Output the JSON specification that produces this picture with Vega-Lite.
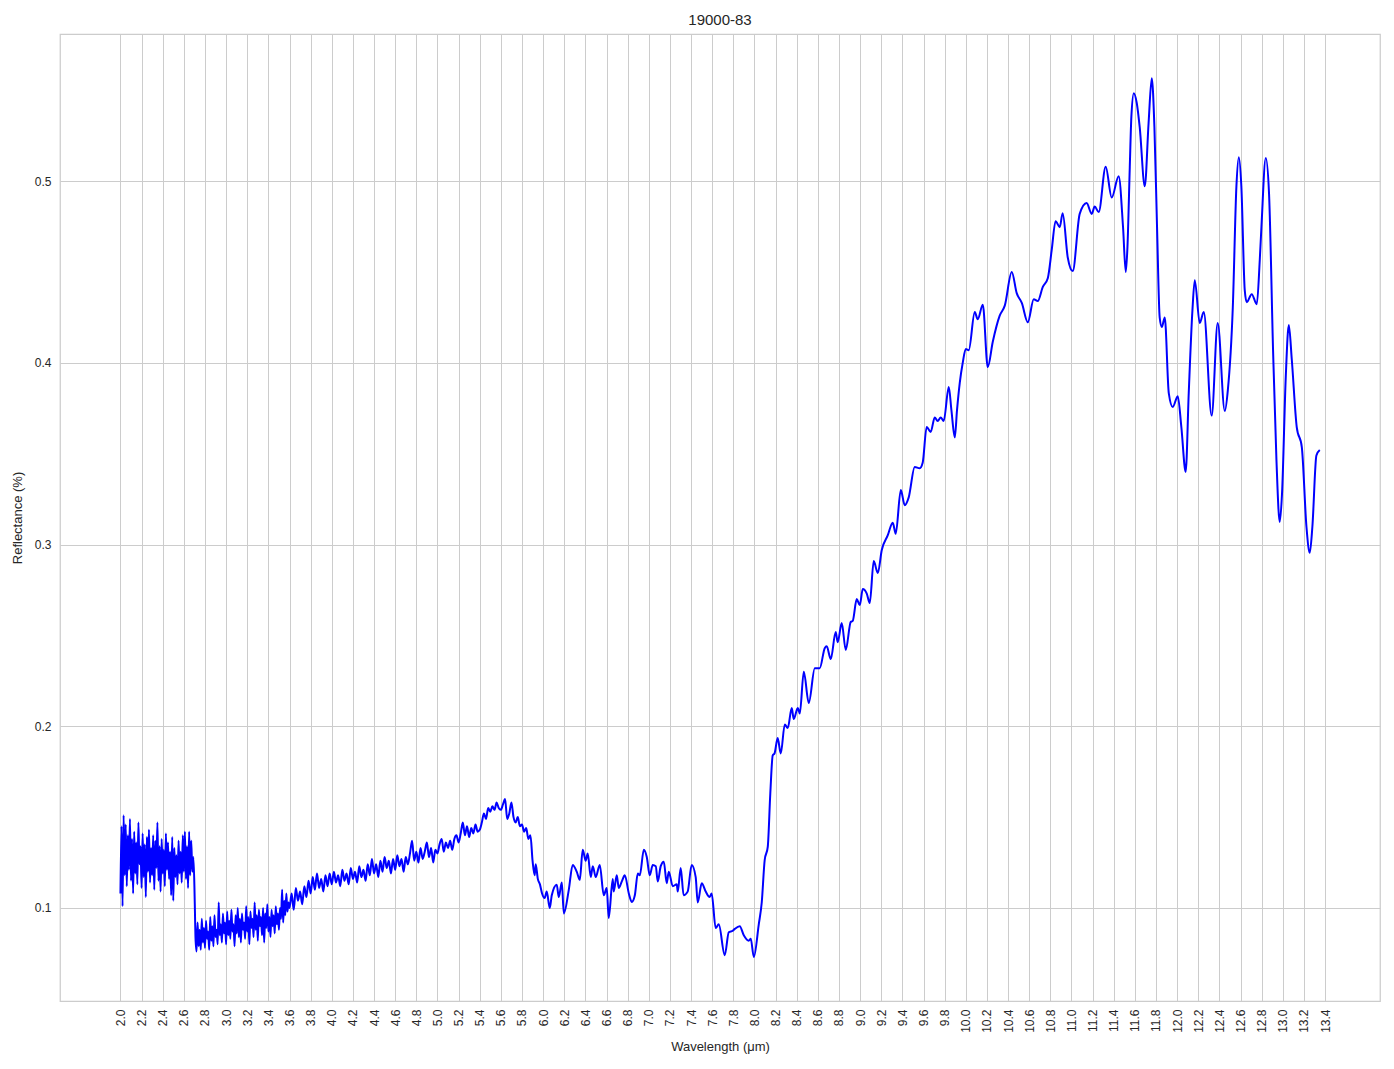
{
  "$schema": "https://vega.github.io/schema/vega-lite/v6.json",
  "width": 1320,
  "height": 967,
  "autosize": {"type": "none"},
  "padding": {"left": 60, "top": 34, "right": 14, "bottom": 68},
  "background": "white",
  "title": {"text": "19000-83", "fontSize": 15, "font": "Liberation Sans", "fontWeight": "normal", "color": "#262626", "anchor": "middle", "offset": 6},
  "config": {
    "view": {"stroke": "#cccccc", "strokeWidth": 1.25},
    "axis": {"labelFont": "Liberation Sans", "titleFont": "Liberation Sans", "labelColor": "#262626", "titleColor": "#262626", "labelFontSize": 12, "titleFontSize": 13, "titleFontWeight": "normal", "gridColor": "#cccccc", "gridWidth": 1, "domain": false, "ticks": false}
  },
  "data": {"values": [
    {"wl":2.00,"refl":0.108},{"wl":2.01,"refl":0.145},{"wl":2.02,"refl":0.101},{"wl":2.03,"refl":0.151},{"wl":2.04,"refl":0.118},{"wl":2.05,"refl":0.146},{"wl":2.06,"refl":0.112},{"wl":2.07,"refl":0.140},{"wl":2.08,"refl":0.121},{"wl":2.09,"refl":0.149},
    {"wl":2.10,"refl":0.115},{"wl":2.11,"refl":0.138},{"wl":2.12,"refl":0.108},{"wl":2.13,"refl":0.142},{"wl":2.14,"refl":0.119},{"wl":2.15,"refl":0.136},{"wl":2.16,"refl":0.113},{"wl":2.17,"refl":0.147},{"wl":2.18,"refl":0.124},{"wl":2.19,"refl":0.134},
    {"wl":2.20,"refl":0.111},{"wl":2.21,"refl":0.141},{"wl":2.22,"refl":0.117},{"wl":2.23,"refl":0.135},{"wl":2.24,"refl":0.106},{"wl":2.25,"refl":0.139},{"wl":2.26,"refl":0.120},{"wl":2.27,"refl":0.143},{"wl":2.28,"refl":0.114},{"wl":2.29,"refl":0.133},
    {"wl":2.30,"refl":0.118},{"wl":2.31,"refl":0.140},{"wl":2.32,"refl":0.110},{"wl":2.33,"refl":0.137},{"wl":2.34,"refl":0.122},{"wl":2.35,"refl":0.147},{"wl":2.36,"refl":0.115},{"wl":2.37,"refl":0.134},{"wl":2.38,"refl":0.109},{"wl":2.39,"refl":0.138},
    {"wl":2.40,"refl":0.119},{"wl":2.41,"refl":0.132},{"wl":2.42,"refl":0.112},{"wl":2.43,"refl":0.141},{"wl":2.44,"refl":0.121},{"wl":2.45,"refl":0.136},{"wl":2.46,"refl":0.116},{"wl":2.47,"refl":0.131},{"wl":2.48,"refl":0.107},{"wl":2.49,"refl":0.139},
    {"wl":2.50,"refl":0.104},{"wl":2.51,"refl":0.133},{"wl":2.52,"refl":0.117},{"wl":2.53,"refl":0.129},{"wl":2.54,"refl":0.113},{"wl":2.55,"refl":0.137},{"wl":2.56,"refl":0.119},{"wl":2.57,"refl":0.131},{"wl":2.58,"refl":0.114},{"wl":2.59,"refl":0.140},
    {"wl":2.60,"refl":0.120},{"wl":2.61,"refl":0.142},{"wl":2.62,"refl":0.116},{"wl":2.63,"refl":0.134},{"wl":2.64,"refl":0.111},{"wl":2.65,"refl":0.142},{"wl":2.66,"refl":0.118},{"wl":2.67,"refl":0.137},{"wl":2.68,"refl":0.120},{"wl":2.69,"refl":0.128},
    {"wl":2.70,"refl":0.112},{"wl":2.705,"refl":0.098},
    {"wl":2.71,"refl":0.084},{"wl":2.72,"refl":0.076},{"wl":2.73,"refl":0.092},{"wl":2.74,"refl":0.079},{"wl":2.75,"refl":0.088},{"wl":2.76,"refl":0.077},{"wl":2.77,"refl":0.094},{"wl":2.78,"refl":0.081},{"wl":2.79,"refl":0.089},
    {"wl":2.80,"refl":0.078},{"wl":2.81,"refl":0.093},{"wl":2.82,"refl":0.083},{"wl":2.83,"refl":0.087},{"wl":2.84,"refl":0.077},{"wl":2.85,"refl":0.095},{"wl":2.86,"refl":0.082},{"wl":2.87,"refl":0.090},{"wl":2.88,"refl":0.079},{"wl":2.89,"refl":0.096},
    {"wl":2.90,"refl":0.084},{"wl":2.91,"refl":0.088},{"wl":2.92,"refl":0.080},{"wl":2.93,"refl":0.103},{"wl":2.94,"refl":0.085},{"wl":2.95,"refl":0.091},{"wl":2.96,"refl":0.081},{"wl":2.97,"refl":0.097},{"wl":2.98,"refl":0.086},{"wl":2.99,"refl":0.092},
    {"wl":3.00,"refl":0.080},{"wl":3.01,"refl":0.098},{"wl":3.02,"refl":0.085},{"wl":3.03,"refl":0.093},{"wl":3.04,"refl":0.083},{"wl":3.05,"refl":0.099},{"wl":3.06,"refl":0.087},{"wl":3.07,"refl":0.091},{"wl":3.08,"refl":0.079},{"wl":3.09,"refl":0.096},
    {"wl":3.10,"refl":0.086},{"wl":3.11,"refl":0.100},{"wl":3.12,"refl":0.084},{"wl":3.13,"refl":0.094},{"wl":3.14,"refl":0.081},{"wl":3.15,"refl":0.097},{"wl":3.16,"refl":0.088},{"wl":3.17,"refl":0.092},{"wl":3.18,"refl":0.083},{"wl":3.19,"refl":0.101},
    {"wl":3.20,"refl":0.087},{"wl":3.21,"refl":0.095},{"wl":3.22,"refl":0.080},{"wl":3.23,"refl":0.098},{"wl":3.24,"refl":0.089},{"wl":3.25,"refl":0.094},{"wl":3.26,"refl":0.084},{"wl":3.27,"refl":0.103},{"wl":3.28,"refl":0.088},{"wl":3.29,"refl":0.096},
    {"wl":3.30,"refl":0.082},{"wl":3.31,"refl":0.099},{"wl":3.32,"refl":0.090},{"wl":3.33,"refl":0.095},{"wl":3.34,"refl":0.085},{"wl":3.35,"refl":0.100},{"wl":3.36,"refl":0.081},{"wl":3.37,"refl":0.097},{"wl":3.38,"refl":0.089},{"wl":3.39,"refl":0.102},
    {"wl":3.40,"refl":0.087},{"wl":3.41,"refl":0.095},{"wl":3.42,"refl":0.084},{"wl":3.43,"refl":0.099},{"wl":3.44,"refl":0.090},{"wl":3.45,"refl":0.096},{"wl":3.46,"refl":0.086},{"wl":3.47,"refl":0.101},{"wl":3.48,"refl":0.091},{"wl":3.49,"refl":0.097},
    {"wl":3.50,"refl":0.088},{"wl":3.51,"refl":0.100},{"wl":3.52,"refl":0.094},{"wl":3.53,"refl":0.110},{"wl":3.54,"refl":0.092},{"wl":3.55,"refl":0.104},{"wl":3.56,"refl":0.096},{"wl":3.57,"refl":0.108},{"wl":3.58,"refl":0.098},{"wl":3.59,"refl":0.103},
    {"wl":3.60,"refl":0.100},{"wl":3.62,"refl":0.108},{"wl":3.64,"refl":0.099},{"wl":3.66,"refl":0.111},{"wl":3.68,"refl":0.104},{"wl":3.70,"refl":0.109},{"wl":3.72,"refl":0.102},{"wl":3.74,"refl":0.112},{"wl":3.76,"refl":0.106},{"wl":3.78,"refl":0.115},
    {"wl":3.80,"refl":0.108},{"wl":3.82,"refl":0.117},{"wl":3.84,"refl":0.110},{"wl":3.86,"refl":0.119},{"wl":3.88,"refl":0.111},{"wl":3.90,"refl":0.116},{"wl":3.92,"refl":0.109},{"wl":3.94,"refl":0.118},{"wl":3.96,"refl":0.112},{"wl":3.98,"refl":0.119},
    {"wl":4.00,"refl":0.113},{"wl":4.02,"refl":0.120},{"wl":4.04,"refl":0.114},{"wl":4.06,"refl":0.118},{"wl":4.08,"refl":0.112},{"wl":4.10,"refl":0.121},{"wl":4.12,"refl":0.115},{"wl":4.14,"refl":0.119},{"wl":4.16,"refl":0.113},{"wl":4.18,"refl":0.122},
    {"wl":4.20,"refl":0.116},{"wl":4.22,"refl":0.120},{"wl":4.24,"refl":0.114},{"wl":4.26,"refl":0.123},{"wl":4.28,"refl":0.117},{"wl":4.30,"refl":0.121},{"wl":4.32,"refl":0.115},{"wl":4.34,"refl":0.124},{"wl":4.36,"refl":0.118},{"wl":4.38,"refl":0.127},
    {"wl":4.40,"refl":0.119},{"wl":4.42,"refl":0.124},{"wl":4.44,"refl":0.117},{"wl":4.46,"refl":0.126},{"wl":4.48,"refl":0.120},{"wl":4.50,"refl":0.128},{"wl":4.52,"refl":0.122},{"wl":4.54,"refl":0.126},{"wl":4.56,"refl":0.119},{"wl":4.58,"refl":0.127},
    {"wl":4.60,"refl":0.121},{"wl":4.62,"refl":0.129},{"wl":4.64,"refl":0.123},{"wl":4.66,"refl":0.127},{"wl":4.68,"refl":0.120},{"wl":4.70,"refl":0.128},{"wl":4.72,"refl":0.124},{"wl":4.74,"refl":0.130},{"wl":4.76,"refl":0.137},{"wl":4.78,"refl":0.126},
    {"wl":4.80,"refl":0.131},{"wl":4.82,"refl":0.125},{"wl":4.84,"refl":0.133},{"wl":4.86,"refl":0.127},{"wl":4.88,"refl":0.131},{"wl":4.90,"refl":0.136},{"wl":4.92,"refl":0.128},{"wl":4.94,"refl":0.133},{"wl":4.96,"refl":0.125},{"wl":4.98,"refl":0.132},
    {"wl":5.00,"refl":0.130},{"wl":5.02,"refl":0.135},{"wl":5.04,"refl":0.138},{"wl":5.06,"refl":0.131},{"wl":5.08,"refl":0.136},{"wl":5.10,"refl":0.133},{"wl":5.12,"refl":0.137},{"wl":5.14,"refl":0.132},{"wl":5.16,"refl":0.138},{"wl":5.18,"refl":0.140},
    {"wl":5.20,"refl":0.136},{"wl":5.22,"refl":0.141},{"wl":5.24,"refl":0.147},{"wl":5.26,"refl":0.140},{"wl":5.28,"refl":0.145},{"wl":5.30,"refl":0.139},{"wl":5.32,"refl":0.144},{"wl":5.34,"refl":0.141},{"wl":5.36,"refl":0.146},{"wl":5.38,"refl":0.142},
    {"wl":5.40,"refl":0.143},{"wl":5.42,"refl":0.147},{"wl":5.44,"refl":0.152},{"wl":5.46,"refl":0.149},{"wl":5.48,"refl":0.155},{"wl":5.50,"refl":0.153},{"wl":5.52,"refl":0.156},{"wl":5.54,"refl":0.154},{"wl":5.56,"refl":0.158},{"wl":5.58,"refl":0.155},
    {"wl":5.60,"refl":0.154},{"wl":5.62,"refl":0.157},{"wl":5.64,"refl":0.160},{"wl":5.66,"refl":0.149},{"wl":5.68,"refl":0.152},{"wl":5.70,"refl":0.158},{"wl":5.72,"refl":0.150},{"wl":5.74,"refl":0.147},{"wl":5.76,"refl":0.150},{"wl":5.78,"refl":0.145},
    {"wl":5.80,"refl":0.146},{"wl":5.82,"refl":0.142},{"wl":5.84,"refl":0.144},{"wl":5.86,"refl":0.138},{"wl":5.88,"refl":0.140},{"wl":5.90,"refl":0.126},{"wl":5.92,"refl":0.118},{"wl":5.93,"refl":0.124},{"wl":5.95,"refl":0.116},{"wl":5.97,"refl":0.113},
    {"wl":5.99,"refl":0.108},{"wl":6.015,"refl":0.1055},{"wl":6.034,"refl":0.109},{"wl":6.063,"refl":0.100},{"wl":6.082,"refl":0.107},{"wl":6.129,"refl":0.1128},{"wl":6.148,"refl":0.106},{"wl":6.177,"refl":0.114},{"wl":6.196,"refl":0.097},{"wl":6.243,"refl":0.110},
    {"wl":6.280,"refl":0.1237},{"wl":6.318,"refl":0.120},{"wl":6.347,"refl":0.1155},{"wl":6.375,"refl":0.132},{"wl":6.403,"refl":0.126},{"wl":6.422,"refl":0.130},{"wl":6.451,"refl":0.117},{"wl":6.470,"refl":0.123},{"wl":6.498,"refl":0.117},{"wl":6.536,"refl":0.1237},
    {"wl":6.574,"refl":0.107},{"wl":6.602,"refl":0.111},{"wl":6.621,"refl":0.0945},{"wl":6.659,"refl":0.116},{"wl":6.668,"refl":0.109},{"wl":6.697,"refl":0.118},{"wl":6.716,"refl":0.111},{"wl":6.744,"refl":0.1145},{"wl":6.773,"refl":0.118},{"wl":6.811,"refl":0.108},
    {"wl":6.839,"refl":0.1033},{"wl":6.868,"refl":0.107},{"wl":6.896,"refl":0.119},{"wl":6.915,"refl":0.118},{"wl":6.953,"refl":0.132},{"wl":6.981,"refl":0.128},{"wl":7.009,"refl":0.118},{"wl":7.038,"refl":0.1237},{"wl":7.066,"refl":0.123},{"wl":7.085,"refl":0.1145},
    {"wl":7.113,"refl":0.123},{"wl":7.142,"refl":0.1255},{"wl":7.170,"refl":0.1136},{"wl":7.189,"refl":0.120},{"wl":7.227,"refl":0.112},{"wl":7.265,"refl":0.113},{"wl":7.274,"refl":0.109},{"wl":7.302,"refl":0.122},{"wl":7.330,"refl":0.107},{"wl":7.368,"refl":0.109},
    {"wl":7.406,"refl":0.1237},{"wl":7.444,"refl":0.117},{"wl":7.463,"refl":0.103},{"wl":7.501,"refl":0.1136},{"wl":7.539,"refl":0.109},{"wl":7.576,"refl":0.106},{"wl":7.595,"refl":0.108},{"wl":7.633,"refl":0.089},{"wl":7.662,"refl":0.091},{"wl":7.719,"refl":0.074},
    {"wl":7.757,"refl":0.0866},{"wl":7.795,"refl":0.0875},{"wl":7.814,"refl":0.0885},{"wl":7.861,"refl":0.090},{"wl":7.899,"refl":0.085},{"wl":7.946,"refl":0.082},{"wl":7.965,"refl":0.083},{"wl":7.994,"refl":0.073},{"wl":8.041,"refl":0.091},{"wl":8.069,"refl":0.103},
    {"wl":8.097,"refl":0.1264},{"wl":8.126,"refl":0.1336},{"wl":8.150,"refl":0.163},{"wl":8.173,"refl":0.184},{"wl":8.190,"refl":0.185},{"wl":8.220,"refl":0.1935},{"wl":8.249,"refl":0.185},{"wl":8.287,"refl":0.201},{"wl":8.315,"refl":0.199},{"wl":8.353,"refl":0.210},
    {"wl":8.372,"refl":0.204},{"wl":8.410,"refl":0.210},{"wl":8.429,"refl":0.207},{"wl":8.467,"refl":0.230},{"wl":8.514,"refl":0.2128},{"wl":8.571,"refl":0.232},{"wl":8.618,"refl":0.232},{"wl":8.665,"refl":0.243},{"wl":8.684,"refl":0.244},{"wl":8.722,"refl":0.237},
    {"wl":8.769,"refl":0.2519},{"wl":8.788,"refl":0.2463},{"wl":8.826,"refl":0.2568},{"wl":8.864,"refl":0.242},{"wl":8.911,"refl":0.2574},{"wl":8.930,"refl":0.258},{"wl":8.968,"refl":0.270},{"wl":8.997,"refl":0.2667},{"wl":9.025,"refl":0.2755},{"wl":9.063,"refl":0.273},
    {"wl":9.091,"refl":0.2678},{"wl":9.129,"refl":0.2909},{"wl":9.167,"refl":0.2843},{"wl":9.205,"refl":0.297},{"wl":9.261,"refl":0.305},{"wl":9.309,"refl":0.312},{"wl":9.337,"refl":0.306},{"wl":9.385,"refl":0.330},{"wl":9.422,"refl":0.3217},{"wl":9.460,"refl":0.326},
    {"wl":9.517,"refl":0.3427},{"wl":9.564,"refl":0.342},{"wl":9.592,"refl":0.345},{"wl":9.630,"refl":0.3647},{"wl":9.668,"refl":0.362},{"wl":9.706,"refl":0.370},{"wl":9.734,"refl":0.368},{"wl":9.763,"refl":0.370},{"wl":9.791,"refl":0.368},{"wl":9.839,"refl":0.3867},
    {"wl":9.864,"refl":0.374},{"wl":9.896,"refl":0.359},{"wl":9.917,"refl":0.374},{"wl":9.943,"refl":0.389},{"wl":9.971,"refl":0.400},{"wl":10.000,"refl":0.4076},{"wl":10.028,"refl":0.407},{"wl":10.085,"refl":0.428},{"wl":10.113,"refl":0.424},{"wl":10.161,"refl":0.432},
    {"wl":10.208,"refl":0.3977},{"wl":10.255,"refl":0.4115},{"wl":10.321,"refl":0.426},{"wl":10.369,"refl":0.4315},{"wl":10.435,"refl":0.450},{"wl":10.482,"refl":0.4384},{"wl":10.530,"refl":0.433},{"wl":10.587,"refl":0.4224},{"wl":10.643,"refl":0.435},{"wl":10.681,"refl":0.434},
    {"wl":10.728,"refl":0.4417},{"wl":10.776,"refl":0.4466},{"wl":10.813,"refl":0.462},{"wl":10.850,"refl":0.478},{"wl":10.889,"refl":0.4747},{"wl":10.917,"refl":0.4824},{"wl":10.965,"refl":0.458},{"wl":11.012,"refl":0.4505},{"wl":11.078,"refl":0.482},{"wl":11.144,"refl":0.488},
    {"wl":11.192,"refl":0.482},{"wl":11.220,"refl":0.486},{"wl":11.258,"refl":0.483},{"wl":11.324,"refl":0.508},{"wl":11.381,"refl":0.491},{"wl":11.447,"refl":0.5027},{"wl":11.488,"refl":0.4749},{"wl":11.514,"refl":0.450},{"wl":11.530,"refl":0.4638},{"wl":11.552,"refl":0.5077},
    {"wl":11.567,"refl":0.5354},{"wl":11.590,"refl":0.5484},{"wl":11.618,"refl":0.543},{"wl":11.646,"refl":0.5297},{"wl":11.694,"refl":0.4972},{"wl":11.730,"refl":0.532},{"wl":11.760,"refl":0.5567},{"wl":11.785,"refl":0.530},{"wl":11.810,"refl":0.4747},{"wl":11.835,"refl":0.425},
    {"wl":11.855,"refl":0.4197},{"wl":11.883,"refl":0.425},{"wl":11.921,"refl":0.3834},{"wl":11.959,"refl":0.3757},{"wl":12.006,"refl":0.3817},{"wl":12.040,"refl":0.3647},{"wl":12.081,"refl":0.340},{"wl":12.110,"refl":0.3834},{"wl":12.145,"refl":0.429},{"wl":12.167,"refl":0.4455},
    {"wl":12.214,"refl":0.422},{"wl":12.252,"refl":0.428},{"wl":12.327,"refl":0.371},{"wl":12.384,"refl":0.422},{"wl":12.451,"refl":0.3735},{"wl":12.480,"refl":0.385},{"wl":12.527,"refl":0.4306},{"wl":12.561,"refl":0.497},{"wl":12.584,"refl":0.5132},{"wl":12.608,"refl":0.497},
    {"wl":12.640,"refl":0.440},{"wl":12.659,"refl":0.4334},{"wl":12.706,"refl":0.4378},{"wl":12.754,"refl":0.4323},{"wl":12.782,"refl":0.4565},{"wl":12.798,"refl":0.4749},{"wl":12.839,"refl":0.5127},{"wl":12.870,"refl":0.493},{"wl":12.908,"refl":0.407},{"wl":12.940,"refl":0.3465},
    {"wl":12.971,"refl":0.3124},{"wl":12.993,"refl":0.3283},{"wl":13.028,"refl":0.392},{"wl":13.057,"refl":0.4208},{"wl":13.085,"refl":0.402},{"wl":13.132,"refl":0.3647},{"wl":13.180,"refl":0.3537},{"wl":13.224,"refl":0.3098},{"wl":13.255,"refl":0.2955},{"wl":13.280,"refl":0.3098},
    {"wl":13.318,"refl":0.349},{"wl":13.350,"refl":0.352}
  ]},
  "mark": {"type": "line", "color": "#0000ff", "strokeWidth": 2, "interpolate": "monotone", "clip": true},
  "encoding": {
    "x": {"field": "wl", "type": "quantitative", "title": "Wavelength (μm)",
      "scale": {"domain": [1.428, 13.92], "nice": false, "zero": false},
      "axis": {"values": [2.0,2.2,2.4,2.6,2.8,3.0,3.2,3.4,3.6,3.8,4.0,4.2,4.4,4.6,4.8,5.0,5.2,5.4,5.6,5.8,6.0,6.2,6.4,6.6,6.8,7.0,7.2,7.4,7.6,7.8,8.0,8.2,8.4,8.6,8.8,9.0,9.2,9.4,9.6,9.8,10.0,10.2,10.4,10.6,10.8,11.0,11.2,11.4,11.6,11.8,12.0,12.2,12.4,12.6,12.8,13.0,13.2,13.4], "format": ".1f", "labelAngle": -90, "labelPadding": 8, "titlePadding": 8, "labelOverlap": false, "labelFlush": false}},
    "y": {"field": "refl", "type": "quantitative", "title": "Reflectance (%)",
      "scale": {"domain": [0.0488, 0.581], "nice": false, "zero": false},
      "axis": {"values": [0.1,0.2,0.3,0.4,0.5], "format": ".1f", "labelPadding": 9, "titlePadding": 10}}
  }
}
